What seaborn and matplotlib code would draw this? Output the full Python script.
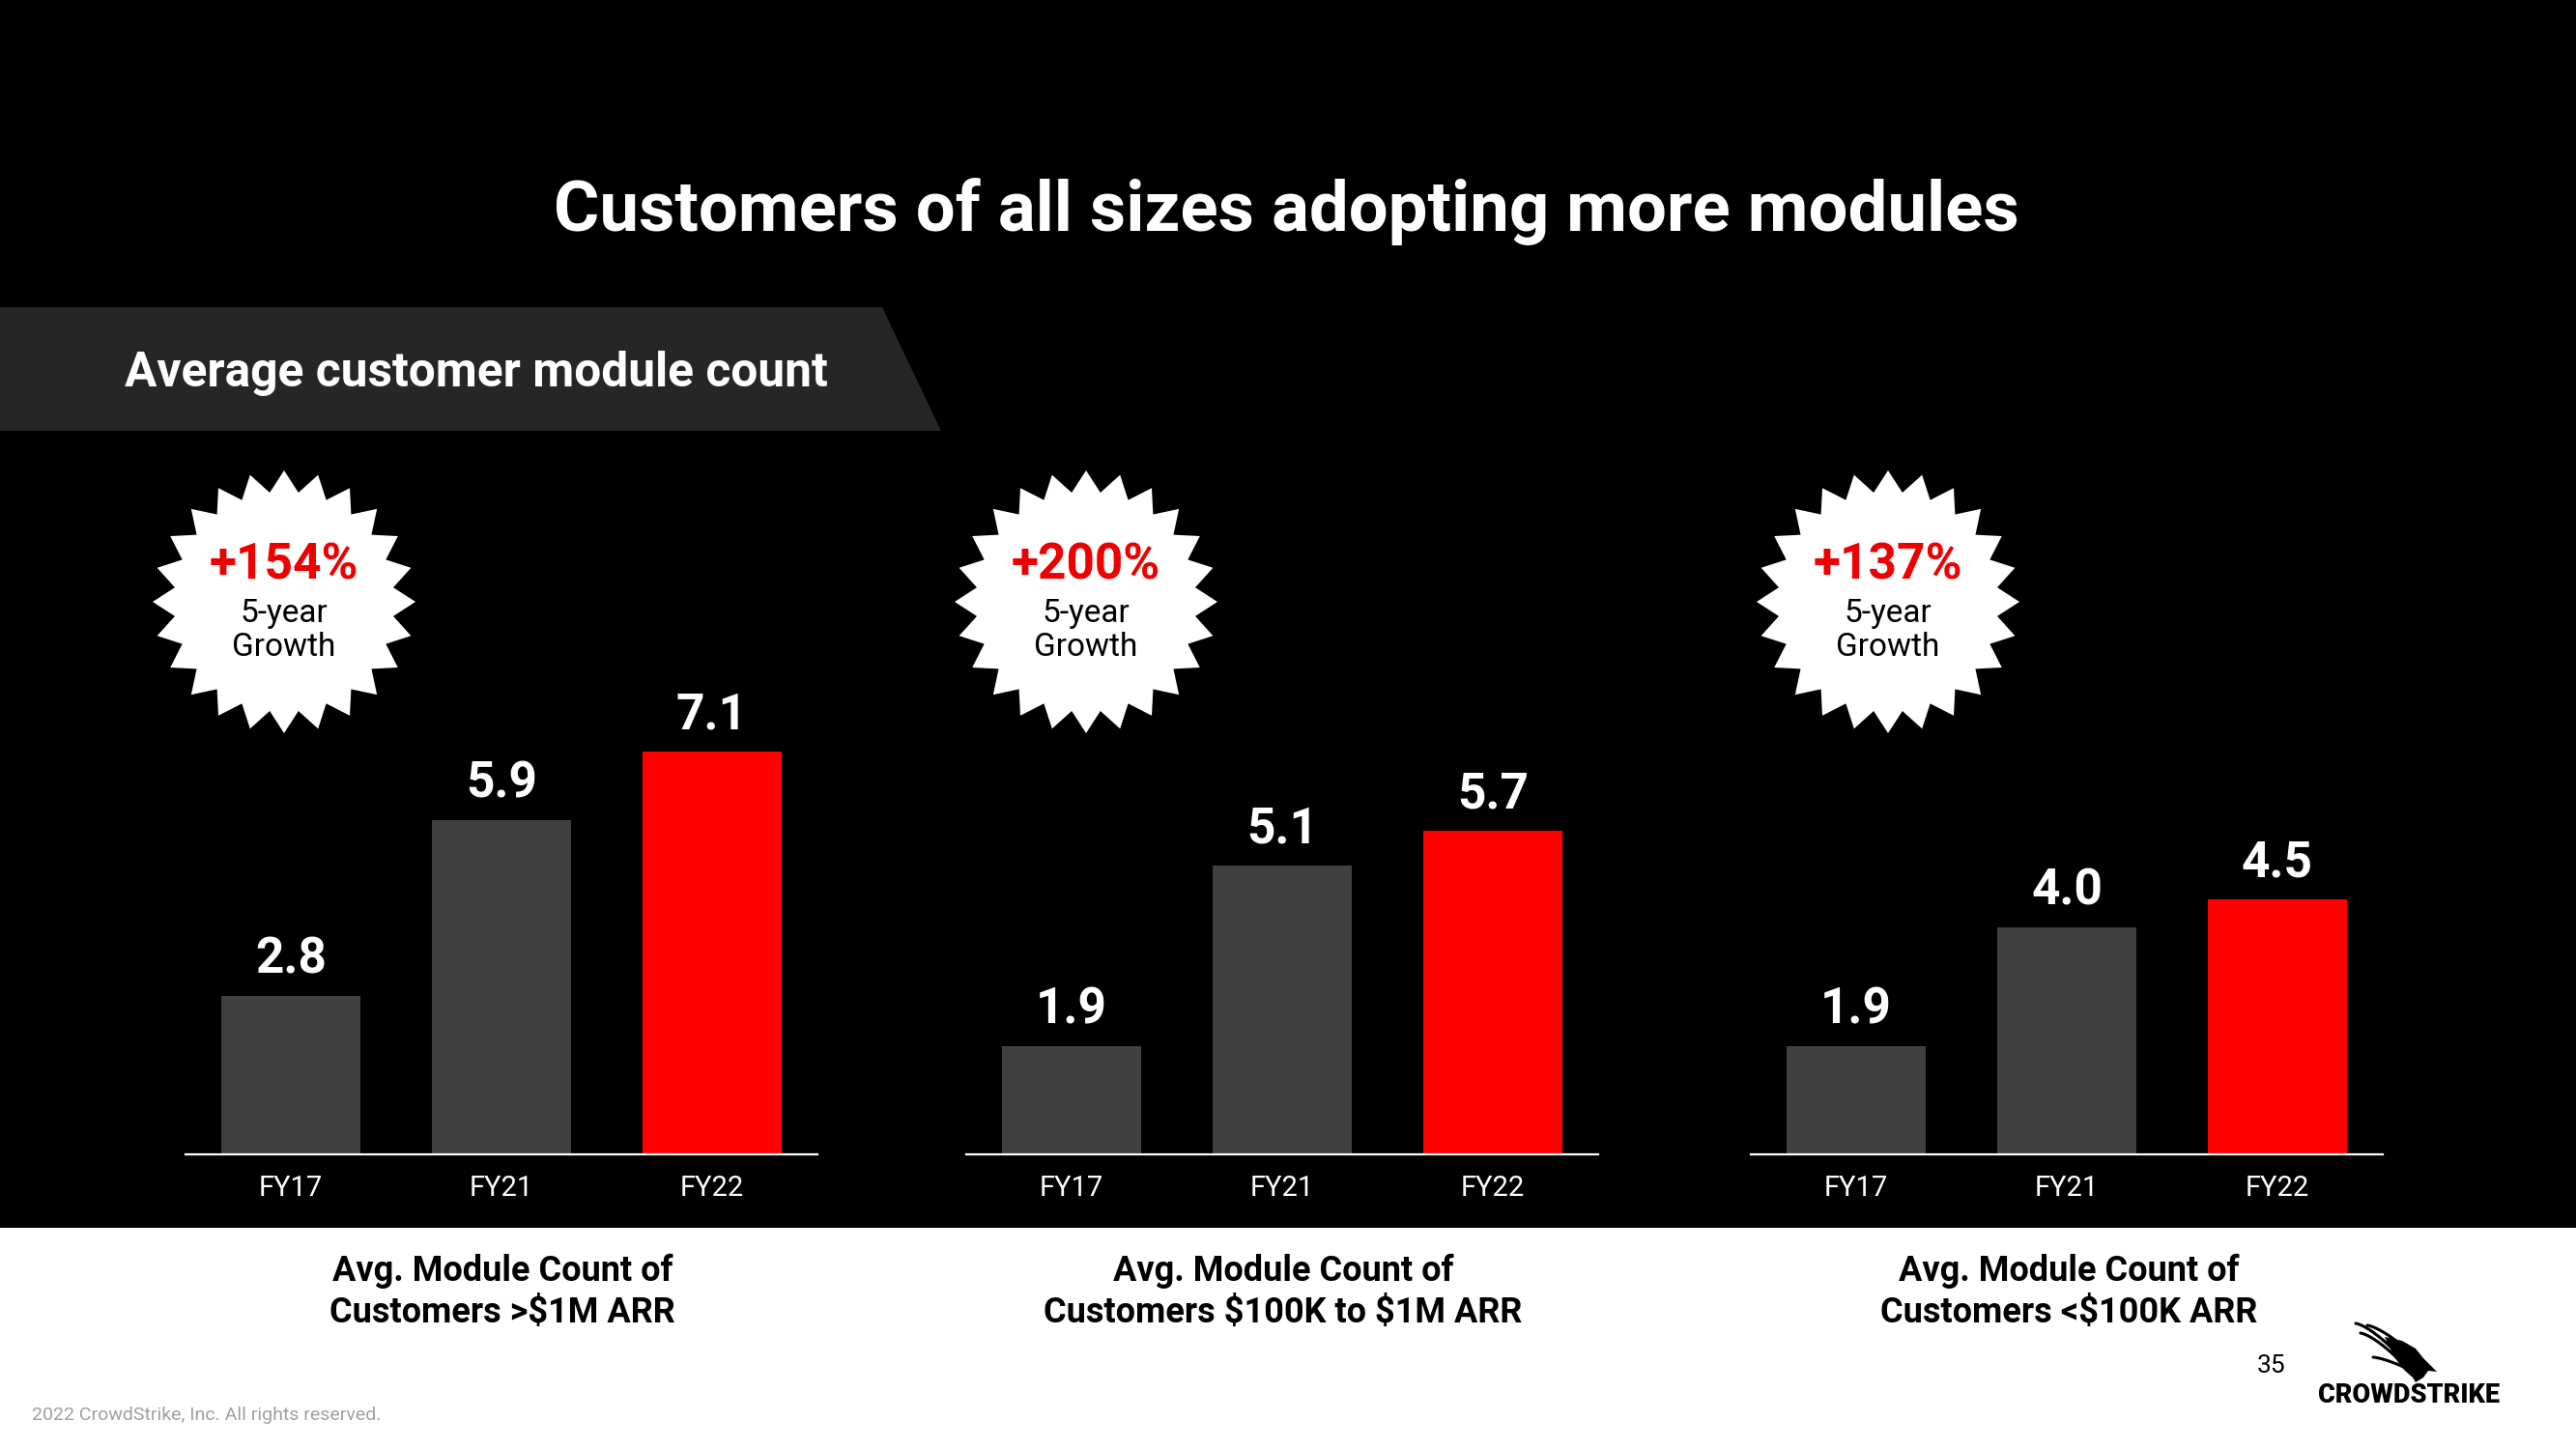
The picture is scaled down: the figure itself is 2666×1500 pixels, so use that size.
import numpy as np
import pandas as pd
import matplotlib
matplotlib.use("Agg")
import matplotlib.pyplot as plt
from matplotlib.patches import Polygon, Rectangle
import seaborn as sns

# ---------------- data ----------------
years = ["FY17", "FY21", "FY22"]
vals_large = [2.8, 5.9, 7.1]
vals_mid = [1.9, 5.1, 5.7]
vals_small = [1.9, 4.0, 4.5]
growth_labels = ["+154%", "+200%", "+137%"]
caption_line1 = ["Avg. Module Count of", "Avg. Module Count of", "Avg. Module Count of"]
caption_line2 = ["Customers >$1M ARR", "Customers $100K to $1M ARR", "Customers <$100K ARR"]
title_text = "Customers of all sizes adopting more modules"
banner_text = "Average customer module count"
footer_text = "2022 CrowdStrike, Inc. All rights reserved."
page_num = "35"
logo_text = "CROWDSTRIKE"

# ---------------- style ----------------
W, H, DPI = 2666, 1500, 100
sns.set_theme(style="white")
plt.rcParams["font.family"] = ["Roboto", "DejaVu Sans"]
plt.rcParams["text.parse_math"] = False

GRAY = "#404040"
RED = "#FF0000"
palette = {"FY17": GRAY, "FY21": GRAY, "FY22": RED}

fig = plt.figure(figsize=(W / DPI, H / DPI), dpi=DPI, facecolor="white")
renderer = fig.canvas.get_renderer()

bg = fig.add_axes([0, 0, 1, 1], zorder=0)
bg.set_xlim(0, W)
bg.set_ylim(H, 0)
bg.axis("off")

bg.add_patch(Rectangle((0, 0), W, 1271, color="black", lw=0))
bg.add_patch(Polygon([(0, 318), (913, 318), (974, 446), (0, 446)], closed=True,
                     color="#262626", lw=0))


def fit_width(t, target):
    bb = t.get_window_extent(renderer)
    t.set_fontsize(t.get_fontsize() * target / bb.width)


t = bg.text(1331, 219, title_text, ha="center", va="center", color="white",
            fontweight="bold", fontsize=50)
fit_width(t, 1515)

t = bg.text(129, 386, banner_text, ha="left", va="center", color="white",
            fontweight="bold", fontsize=30)
fit_width(t, 726)

# ---------------- bar panels ----------------
lefts = [192, 1000, 1812]
axw = 654
base = 1195
unit = 58.7
ymax = 8.0
axh = unit * ymax

for left, vals in zip(lefts, [vals_large, vals_mid, vals_small]):
    ax = fig.add_axes([left / W, (H - base) / H, axw / W, axh / H], zorder=1)
    ax.patch.set_alpha(0)
    df = pd.DataFrame({"year": years, "value": vals})
    sns.barplot(data=df, x="year", y="value", hue="year", palette=palette,
                width=0.665, saturation=1, legend=False, ax=ax,
                edgecolor="none", linewidth=0)
    ax.set_xlim(-0.5, 2.5)
    ax.set_ylim(0, ymax)
    for s in ["top", "left", "right"]:
        ax.spines[s].set_visible(False)
    ax.spines["bottom"].set_color("white")
    ax.spines["bottom"].set_linewidth(1.6)
    ax.set_xlabel("")
    ax.set_ylabel("")
    ax.set_yticks([])
    ax.tick_params(axis="x", length=0, pad=15, colors="white", labelsize=21)
    for c in ax.containers:
        ax.bar_label(c, fmt="%.1f", padding=9, color="white", fontsize=37,
                     fontweight="bold", clip_on=False)


# ---------------- starbursts ----------------
def starburst(cx, cy, ro, ri, n):
    ang = np.linspace(0, 2 * np.pi, 2 * n, endpoint=False) - np.pi / 2
    r = np.where(np.arange(2 * n) % 2 == 0, ro, ri)
    return np.column_stack([cx + r * np.cos(ang), cy + r * np.sin(ang)])


star_x = [294, 1124, 1954]
for cx, g in zip(star_x, growth_labels):
    bg.add_patch(Polygon(starburst(cx, 623, 136, 114, 24), closed=True,
                         color="white", lw=0))
    bg.text(cx, 586, g, ha="center", va="center", color="#EE0000",
            fontweight="bold", fontsize=37)
    bg.text(cx, 635, "5-year", ha="center", va="center", color="black", fontsize=24)
    bg.text(cx, 670, "Growth", ha="center", va="center", color="black", fontsize=24)

# ---------------- captions ----------------
cap_x = [520, 1328, 2141]
for cx, l1, l2 in zip(cap_x, caption_line1, caption_line2):
    bg.text(cx, 1316, l1, ha="center", va="center", color="black",
            fontweight="bold", fontsize=26)
    bg.text(cx, 1359, l2, ha="center", va="center", color="black",
            fontweight="bold", fontsize=26)

# ---------------- footer ----------------
bg.text(33, 1465, footer_text, ha="left", va="center", color="#A0A0A0", fontsize=14)
bg.text(2351, 1414, page_num, ha="center", va="center", color="black", fontsize=19)
t = bg.text(2493, 1444, logo_text, ha="center", va="center", color="black",
            fontweight="black", fontsize=17)
fit_width(t, 188)

# simple falcon mark
body = [(2468, 1384), (2486, 1388), (2500, 1396), (2508, 1406), (2516, 1414),
        (2522, 1420), (2513, 1419), (2508, 1426), (2500, 1431), (2497, 1426),
        (2488, 1418), (2478, 1405)]
bg.add_patch(Polygon(body, closed=True, color="black", lw=0))
for (x0, y0), (x1, y1) in [((2438, 1370), (2478, 1398)),
                           ((2450, 1372), (2485, 1392)),
                           ((2443, 1380), (2480, 1405)),
                           ((2456, 1405), (2498, 1420))]:
    xs = np.linspace(x0, x1, 20)
    ys = y0 + (y1 - y0) * ((xs - x0) / (x1 - x0)) ** 1.4
    bg.plot(xs, ys, color="black", lw=2.2, solid_capstyle="round")

fig.savefig("out.png", dpi=DPI, facecolor=fig.get_facecolor())
